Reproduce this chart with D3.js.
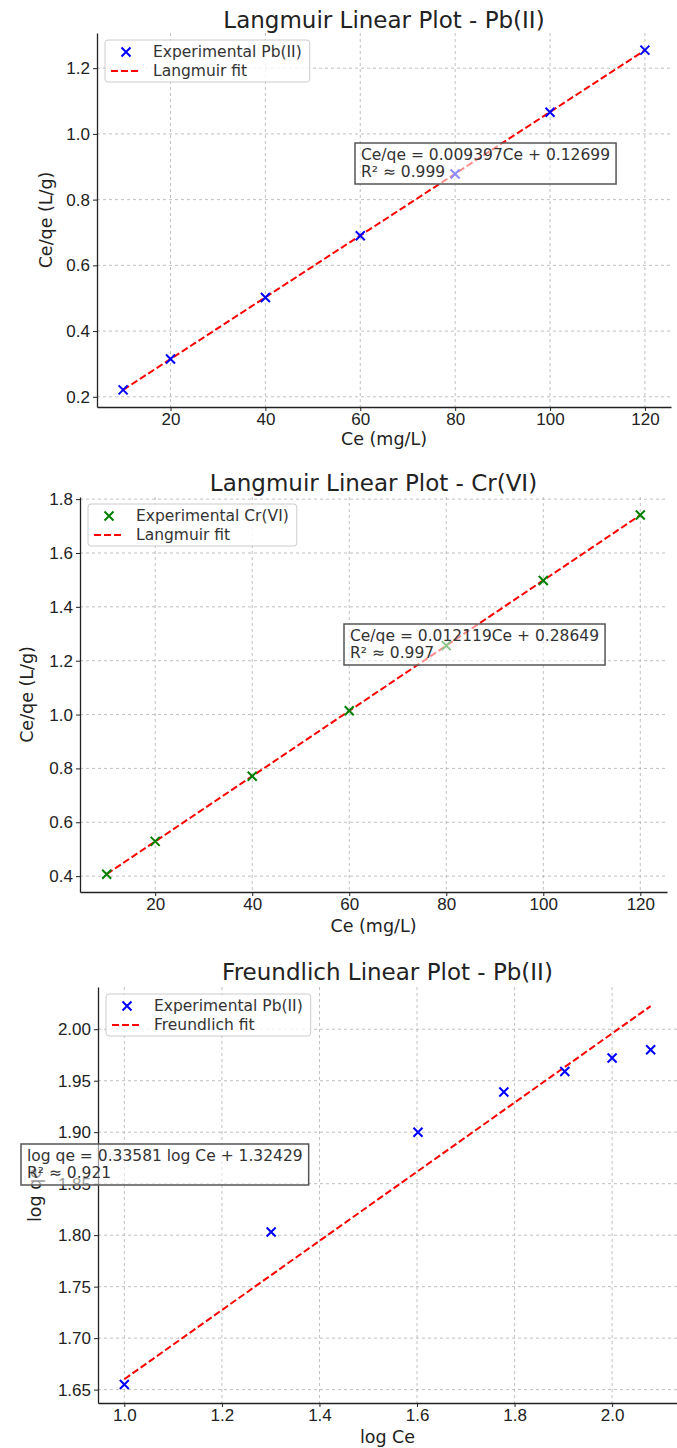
<!DOCTYPE html>
<html>
<head>
<meta charset="utf-8">
<script src="https://cdn.jsdelivr.net/npm/d3@7"></script>
<style>
  body { margin: 0; background: #fff; }
  svg { font-family: "DejaVu Sans", sans-serif; display: block; }
  .grid line { stroke: #b0b0b0; stroke-dasharray: 3,3; stroke-width: 0.8; }
  .axis text { fill: #222; }
  .axis path, .axis line { stroke: #222; }
</style>
</head>
<body>
<svg id="chart" width="677" height="1448"></svg>
<script>
// data
const ceValues = [10, 20, 40, 60, 80, 100, 120];
const pbLangmuirY = [0.221, 0.315, 0.502, 0.690, 0.878, 1.066, 1.255];
const crLangmuirY = [0.407, 0.529, 0.771, 1.014, 1.256, 1.498, 1.741];
const logCeValues = [1.000, 1.301, 1.602, 1.778, 1.903, 2.000, 2.079];
const pbLogQe = [1.655, 1.803, 1.900, 1.939, 1.959, 1.972, 1.980];

const pbLangmuirFit = [0.009397, 0.12699];
const crLangmuirFit = [0.012119, 0.28649];
const pbFreundlichFit = [0.33581, 1.32429];

const langmuirXTicks = [20, 40, 60, 80, 100, 120];
const pbLangmuirYTicks = [0.2, 0.4, 0.6, 0.8, 1.0, 1.2];
const crLangmuirYTicks = [0.4, 0.6, 0.8, 1.0, 1.2, 1.4, 1.6, 1.8];
const freundlichXTicks = [1.0, 1.2, 1.4, 1.6, 1.8, 2.0];
const freundlichYTicks = [1.65, 1.70, 1.75, 1.80, 1.85, 1.90, 1.95, 2.00];

const panels = [
  {
    title: 'Langmuir Linear Plot - Pb(II)', xLabel: 'Ce (mg/L)', yLabel: 'Ce/qe (L/g)',
    x: ceValues, y: pbLangmuirY, fit: pbLangmuirFit, color: '#0000ff',
    pointName: 'Experimental Pb(II)', fitName: 'Langmuir fit',
    xTicks: langmuirXTicks, yTicks: pbLangmuirYTicks, xFmt: d3.format('d'), yFmt: d3.format('.1f'),
    xDomain: [4.5, 125.5], yDomain: [0.169, 1.307],
    box: {left: 97, right: 671, top: 33, bottom: 407}, titleY: 28,
    xLabelGap: 38, yLabelGap: 51,
    note: ['Ce/qe = 0.009397Ce + 0.12699', 'R\u00b2 \u2248 0.999'], notePos: [361, 160]
  },
  {
    title: 'Langmuir Linear Plot - Cr(VI)', xLabel: 'Ce (mg/L)', yLabel: 'Ce/qe (L/g)',
    x: ceValues, y: crLangmuirY, fit: crLangmuirFit, color: '#008000',
    pointName: 'Experimental Cr(VI)', fitName: 'Langmuir fit',
    xTicks: langmuirXTicks, yTicks: crLangmuirYTicks, xFmt: d3.format('d'), yFmt: d3.format('.1f'),
    xDomain: [4.5, 125.5], yDomain: [0.341, 1.808],
    box: {left: 80, right: 667, top: 497, bottom: 892}, titleY: 491,
    xLabelGap: 40, yLabelGap: 53,
    note: ['Ce/qe = 0.012119Ce + 0.28649', 'R\u00b2 \u2248 0.997'], notePos: [350, 641]
  },
  {
    title: 'Freundlich Linear Plot - Pb(II)', xLabel: 'log Ce', yLabel: 'log qe',
    x: logCeValues, y: pbLogQe, fit: pbFreundlichFit, color: '#0000ff',
    pointName: 'Experimental Pb(II)', fitName: 'Freundlich fit',
    xTicks: freundlichXTicks, yTicks: freundlichYTicks, xFmt: d3.format('.1f'), yFmt: d3.format('.2f'),
    xDomain: [0.946, 2.133], yDomain: [1.637, 2.041],
    box: {left: 98, right: 677, top: 987, bottom: 1403}, titleY: 980,
    xLabelGap: 40, yLabelGap: 63,
    note: ['log qe = 0.33581 log Ce + 1.32429', 'R\u00b2 \u2248 0.921'], notePos: [27, 1161]
  }
];

const svg = d3.select('#chart');

function drawPanel(p) {
  const b = p.box;
  const xScale = d3.scaleLinear().domain(p.xDomain).range([b.left, b.right]);
  const yScale = d3.scaleLinear().domain(p.yDomain).range([b.bottom, b.top]);
  const g = svg.append('g');

  // grid
  const grid = g.append('g').attr('class', 'grid');
  grid.selectAll('.gx').data(p.xTicks).enter().append('line')
    .attr('x1', d => xScale(d)).attr('x2', d => xScale(d))
    .attr('y1', b.top).attr('y2', b.bottom);
  grid.selectAll('.gy').data(p.yTicks).enter().append('line')
    .attr('x1', b.left).attr('x2', b.right)
    .attr('y1', d => yScale(d)).attr('y2', d => yScale(d));

  // axes
  const xAxis = d3.axisBottom(xScale).tickValues(p.xTicks).tickFormat(p.xFmt).tickSize(4).tickSizeOuter(0).tickPadding(2);
  const yAxis = d3.axisLeft(yScale).tickValues(p.yTicks).tickFormat(p.yFmt).tickSize(4).tickSizeOuter(0).tickPadding(3);
  g.append('g').attr('class', 'axis').attr('transform', `translate(0,${b.bottom})`).call(xAxis)
    .selectAll('text').style('font-size', '17px');
  g.append('g').attr('class', 'axis').attr('transform', `translate(${b.left},0)`).call(yAxis)
    .selectAll('text').style('font-size', '17px');
  g.selectAll('.axis path').attr('stroke-width', 1.3);

  // title and labels
  g.append('text').text(p.title)
    .attr('x', (b.left + b.right) / 2).attr('y', p.titleY)
    .attr('text-anchor', 'middle').attr('font-size', 23).attr('fill', '#222');
  g.append('text').text(p.xLabel)
    .attr('x', (b.left + b.right) / 2).attr('y', b.bottom + p.xLabelGap)
    .attr('text-anchor', 'middle').attr('font-size', 17.5).attr('fill', '#222');
  g.append('text').text(p.yLabel)
    .attr('transform', `translate(${b.left - p.yLabelGap},${(b.top + b.bottom) / 2}) rotate(-90)`)
    .attr('text-anchor', 'middle').attr('dy', '0.35em').attr('font-size', 17.5).attr('fill', '#222');

  // fit line
  const fitLine = d3.line().x(d => xScale(d)).y(d => yScale(p.fit[0] * d + p.fit[1]));
  g.append('path').datum(d3.extent(p.x))
    .attr('d', fitLine).attr('fill', 'none')
    .attr('stroke', '#ff0000').attr('stroke-width', 2).attr('stroke-dasharray', '7,3');

  // points
  const pts = p.x.map((v, i) => [v, p.y[i]]);
  const s = 4.5;
  g.selectAll('.pt').data(pts).enter().append('path')
    .attr('d', d => {
      const cx = xScale(d[0]), cy = yScale(d[1]);
      return `M${cx - s},${cy - s}L${cx + s},${cy + s}M${cx - s},${cy + s}L${cx + s},${cy - s}`;
    })
    .attr('stroke', p.color).attr('stroke-width', 2);

  // legend
  const lg = g.append('g').attr('transform', `translate(${b.left + 8},${b.top + 7})`);
  const lgRect = lg.append('rect').attr('rx', 3).attr('fill', '#fff').attr('fill-opacity', 0.8)
    .attr('stroke', '#ccc').attr('stroke-width', 1);
  lg.append('path')
    .attr('d', `M${21 - s},${12 - s}L${21 + s},${12 + s}M${21 - s},${12 + s}L${21 + s},${12 - s}`)
    .attr('stroke', p.color).attr('stroke-width', 2);
  lg.append('line').attr('x1', 6).attr('x2', 36).attr('y1', 31).attr('y2', 31)
    .attr('stroke', '#ff0000').attr('stroke-width', 2).attr('stroke-dasharray', '7,3');
  const t1 = lg.append('text').text(p.pointName).attr('x', 48).attr('y', 12).attr('dy', '0.35em')
    .attr('font-size', 15.5).attr('fill', '#333');
  const t2 = lg.append('text').text(p.fitName).attr('x', 48).attr('y', 31).attr('dy', '0.35em')
    .attr('font-size', 15.5).attr('fill', '#333');
  const w = Math.max(t1.node().getComputedTextLength(), t2.node().getComputedTextLength());
  lgRect.attr('width', 48 + w + 8).attr('height', 42);

  // annotation box
  const ng = g.append('g');
  const nRect = ng.append('rect').attr('fill', '#fff').attr('fill-opacity', 0.55)
    .attr('stroke', '#555').attr('stroke-width', 1.5);
  const nt = ng.append('text').attr('font-size', 15.5).attr('fill', '#333');
  p.note.forEach((line, i) => {
    nt.append('tspan').text(line).attr('x', p.notePos[0]).attr('y', p.notePos[1] + i * 17);
  });
  const bb = nt.node().getBBox();
  nRect.attr('x', bb.x - 6).attr('y', bb.y - 3).attr('width', bb.width + 12).attr('height', bb.height + 6);
}

panels.forEach(drawPanel);
</script>
</body>
</html>
